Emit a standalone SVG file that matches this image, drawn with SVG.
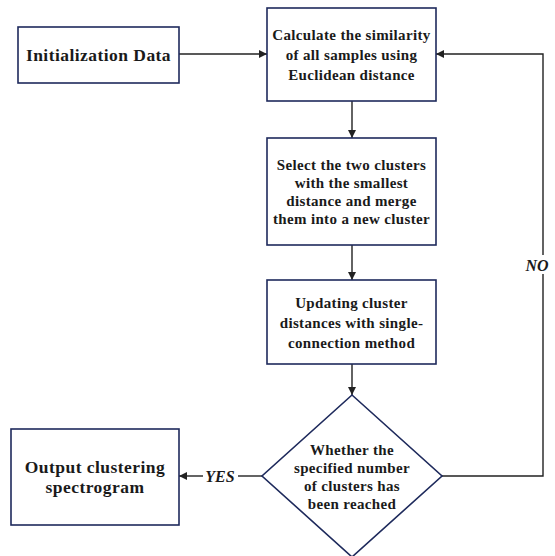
<svg xmlns="http://www.w3.org/2000/svg" width="555" height="556" viewBox="0 0 555 556">
<style>
.box{fill:#fff;stroke:#1e2a5c;stroke-width:1.6}
.t{font-family:"Liberation Serif","Times New Roman",serif;font-weight:bold;fill:#1a1a1a;text-anchor:middle}
.s{font-size:15px;letter-spacing:0.35px}
.l{font-size:17.5px;letter-spacing:0.45px}
.lab{font-family:"Liberation Serif","Times New Roman",serif;font-weight:bold;font-style:italic;font-size:16px;fill:#1a1a1a;text-anchor:middle}
.c{fill:none;stroke:#222;stroke-width:1.4}
</style>
<defs>
<marker id="ah" viewBox="0 0 10 10" refX="10" refY="5" markerWidth="8" markerHeight="8" markerUnits="userSpaceOnUse" orient="auto">
<path d="M0,0 L10,5 L0,10 z" fill="#222"/>
</marker>
</defs>
<rect width="555" height="556" fill="#fff"/>
<g id="connectors">
<line class="c" x1="179" y1="54" x2="267" y2="54" marker-end="url(#ah)"/>
<line class="c" x1="352" y1="101" x2="352" y2="138" marker-end="url(#ah)"/>
<line class="c" x1="352" y1="245" x2="352" y2="280" marker-end="url(#ah)"/>
<line class="c" x1="352" y1="364" x2="352" y2="395" marker-end="url(#ah)"/>
<line class="c" x1="262" y1="476" x2="238" y2="476"/>
<line class="c" x1="203" y1="476" x2="179" y2="476" marker-end="url(#ah)"/>
<polyline class="c" points="442,476 543,476 543,274"/>
<polyline class="c" points="543,255 543,54 436,54" marker-end="url(#ah)"/>
<text class="lab" x="220" y="482">YES</text>
<text class="lab" x="537" y="271">NO</text>
</g>
<g id="init">
<rect class="box" x="18" y="27" width="161" height="56"/>
<text class="t l" x="98.5" y="61">Initialization Data</text>
</g>
<g id="calc">
<rect class="box" x="267" y="8" width="169" height="93"/>
<text class="t s" x="351.5" y="40">Calculate the similarity</text>
<text class="t s" x="351.5" y="60">of all samples using</text>
<text class="t s" x="351.5" y="80">Euclidean distance</text>
</g>
<g id="select">
<rect class="box" x="267" y="138" width="169" height="107"/>
<text class="t s" x="351.5" y="170">Select the two clusters</text>
<text class="t s" x="351.5" y="188">with the smallest</text>
<text class="t s" x="351.5" y="206">distance and merge</text>
<text class="t s" x="351.5" y="224">them into a new cluster</text>
</g>
<g id="update">
<rect class="box" x="267" y="280" width="169" height="84"/>
<text class="t s" x="351.5" y="308">Updating cluster</text>
<text class="t s" x="351.5" y="328">distances with single-</text>
<text class="t s" x="351.5" y="348">connection method</text>
</g>
<g id="decision">
<polygon class="box" points="352,395 442,476 352,557 262,476"/>
<text class="t s" x="352" y="455">Whether the</text>
<text class="t s" x="352" y="473">specified number</text>
<text class="t s" x="352" y="491">of clusters has</text>
<text class="t s" x="352" y="509">been reached</text>
</g>
<g id="output">
<rect class="box" x="11" y="429" width="168" height="96"/>
<text class="t l" x="95" y="473">Output clustering</text>
<text class="t l" x="95" y="493">spectrogram</text>
</g>
</svg>
